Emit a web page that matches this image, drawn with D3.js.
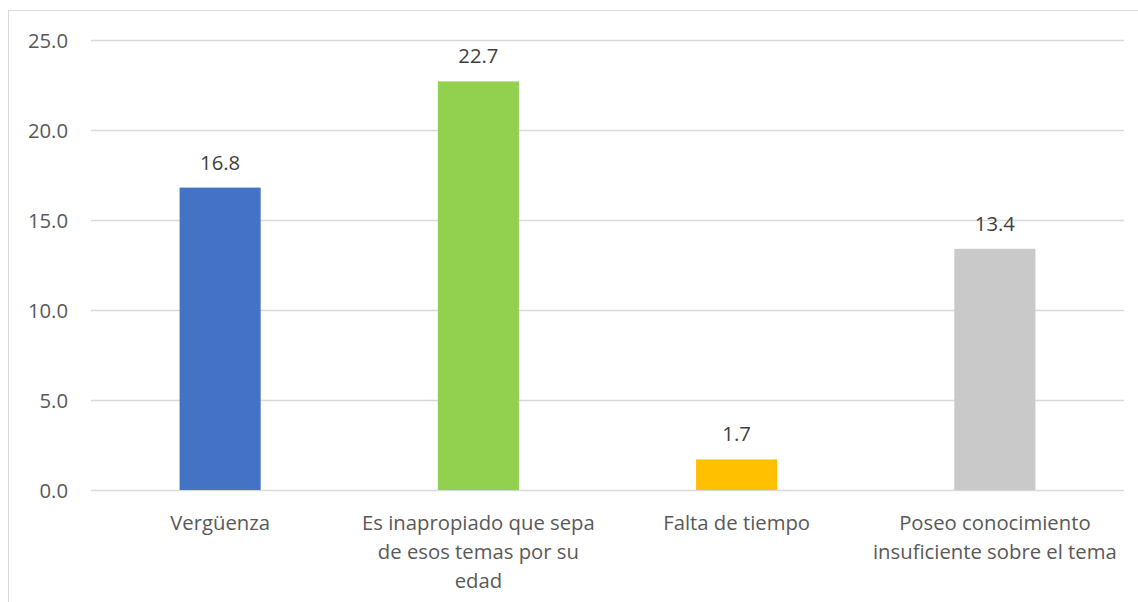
<!DOCTYPE html>
<html><head><meta charset="utf-8">
<script src="https://cdn.jsdelivr.net/npm/d3@7"></script>
<style>html,body{margin:0;padding:0;background:#fff;}svg{display:block;}</style>
</head><body>
<svg id="chart" width="1138" height="602"></svg>
<script>
const categories = ["Vergüenza", "Es inapropiado que sepa de esos temas por su edad", "Falta de tiempo", "Poseo conocimiento insuficiente sobre el tema"];
const categoryLines = [["Vergüenza"], ["Es inapropiado que sepa", "de esos temas por su", "edad"], ["Falta de tiempo"], ["Poseo conocimiento", "insuficiente sobre el tema"]];
const values = [16.8, 22.7, 1.7, 13.4];
const barColors = ["#4472C4", "#92D050", "#FFC000", "#C9C9C9"];
const yTicks = [0, 5, 10, 15, 20, 25];

const svg = d3.select("#chart");
const font = "'Open Sans', 'Liberation Sans', sans-serif";
const fs = 20.3;
svg.append("rect").attr("x", 8.5).attr("y", 10.5).attr("width", 1140).attr("height", 600)
  .attr("fill", "#fff").attr("stroke", "#D9D9D9").attr("stroke-width", 1);

const mLeft = 91, mRight = 1124, mTop = 40, mBottom = 490;
const x = d3.scaleBand().domain(categories).range([mLeft, mRight]).padding(0);
const y = d3.scaleLinear().domain([0, 25]).range([mBottom, mTop]);

const grid = svg.append("g");
grid.selectAll("line").data(yTicks).join("line")
  .attr("x1", mLeft).attr("x2", mRight)
  .attr("y1", d => Math.round(y(d)) + 0.5).attr("y2", d => Math.round(y(d)) + 0.5)
  .attr("stroke", "#D9D9D9").attr("stroke-width", 1.3);

const yAxis = d3.axisLeft(y).tickValues(yTicks).tickFormat(d3.format(".1f")).tickSize(0).tickPadding(0);
const ya = svg.append("g").attr("transform", `translate(68,0)`).call(yAxis);
ya.select(".domain").remove();
ya.selectAll("text").attr("font-family", font).attr("font-size", fs).attr("fill", "#595959").attr("dy", "0.35em");

const bw = x.bandwidth() * 0.314;
svg.append("g").selectAll("rect").data(values).join("rect")
  .attr("x", (d, i) => x(categories[i]) + x.bandwidth() / 2 - bw / 2)
  .attr("width", bw)
  .attr("y", d => y(d))
  .attr("height", d => y(0) - y(d))
  .attr("fill", (d, i) => barColors[i]);

svg.append("g").selectAll("text").data(values).join("text")
  .attr("x", (d, i) => x(categories[i]) + x.bandwidth() / 2)
  .attr("y", d => y(d) - 18)
  .attr("text-anchor", "middle")
  .attr("font-family", font).attr("font-size", fs).attr("fill", "#404040")
  .text(d => d3.format(".1f")(d));

const xl = svg.append("g");
categories.forEach((c, i) => {
  const t = xl.append("text")
    .attr("x", x(c) + x.bandwidth() / 2)
    .attr("y", 530)
    .attr("text-anchor", "middle")
    .attr("font-family", font).attr("font-size", fs).attr("fill", "#595959");
  categoryLines[i].forEach((ln, j) => {
    t.append("tspan").attr("x", x(c) + x.bandwidth() / 2).attr("y", 530 + j * 29).text(ln);
  });
});
</script>
</body></html>
